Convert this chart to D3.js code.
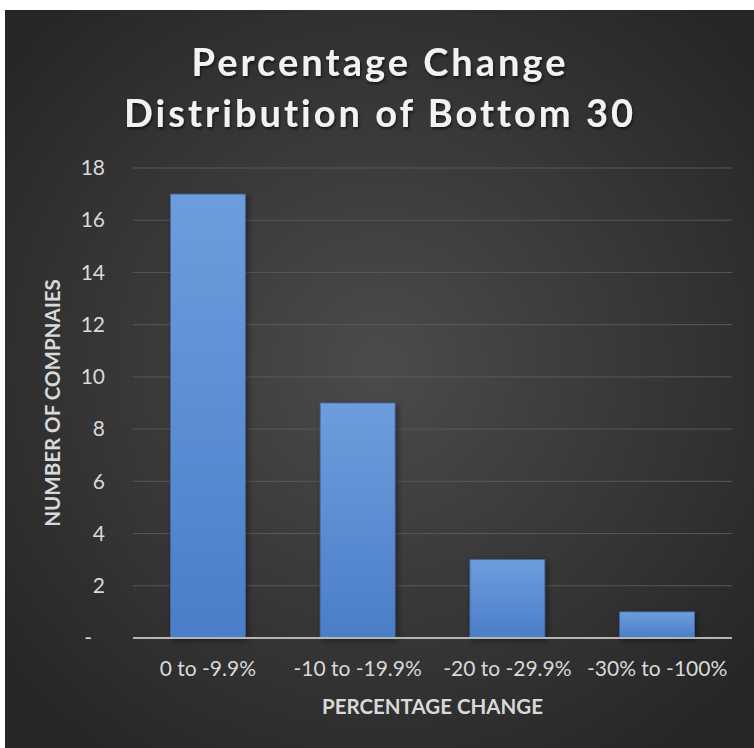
<!DOCTYPE html>
<html>
<head>
<meta charset="utf-8">
<script src="https://cdn.jsdelivr.net/npm/d3@7"></script>
<style>
  body { margin: 0; background: #fff; }
  text { font-family: Lato, "Open Sans", sans-serif; }
</style>
</head>
<body>
<svg></svg>
<script>
var width = 754,
    height = 748;

// Chart data
var categories = ['0 to -9.9%', '-10 to -19.9%', '-20 to -29.9%', '-30% to -100%'];
var counts = [17, 9, 3, 1];
var yTicks = [0, 2, 4, 6, 8, 10, 12, 14, 16, 18];
var titleLines = ['Percentage Change', 'Distribution of Bottom 30'];

var margin = {left: 133, right: 22, top: 168, bottom: 110};

var svg = d3.select('svg')
    .attr('width', width)
    .attr('height', height);

var defs = svg.append('defs');

// Background gradient
var bg = defs.append('radialGradient')
    .attr('id', 'bg')
    .attr('cx', '50%').attr('cy', '48%').attr('r', '65%');
bg.append('stop').attr('offset', '0%').attr('stop-color', '#4b4b4b');
bg.append('stop').attr('offset', '100%').attr('stop-color', '#262626');

// Bar gradient
var barGrad = defs.append('linearGradient')
    .attr('id', 'barGrad')
    .attr('x1', 0).attr('y1', 0).attr('x2', 0).attr('y2', 1);
barGrad.append('stop').attr('offset', '0%').attr('stop-color', '#6e9ddd');
barGrad.append('stop').attr('offset', '100%').attr('stop-color', '#4a7ec8');

var shadow = defs.append('filter')
    .attr('id', 'shadow')
    .attr('x', '-20%').attr('y', '-20%').attr('width', '140%').attr('height', '140%');
shadow.append('feDropShadow')
    .attr('dx', 2).attr('dy', 2).attr('stdDeviation', 3)
    .attr('flood-color', '#000').attr('flood-opacity', 0.45);

var textShadow = defs.append('filter').attr('id', 'textShadow');
textShadow.append('feDropShadow')
    .attr('dx', 1).attr('dy', 2).attr('stdDeviation', 1.5)
    .attr('flood-color', '#000').attr('flood-opacity', 0.6);

// Chart area
svg.append('rect')
    .attr('x', 5)
    .attr('y', 10)
    .attr('width', width - 5)
    .attr('height', height - 10)
    .attr('fill', 'url(#bg)');

var x = d3.scaleBand()
    .domain(categories)
    .range([margin.left, width - margin.right])
    .paddingInner(0.5)
    .paddingOuter(0.25);

var y = d3.scaleLinear()
    .domain([0, 18])
    .range([height - margin.bottom, margin.top]);

// Gridlines
svg.append('g')
    .selectAll('line')
    .data(yTicks.slice(1))
    .enter().append('line')
    .attr('x1', margin.left)
    .attr('x2', width - margin.right)
    .attr('y1', function(d) { return y(d); })
    .attr('y2', function(d) { return y(d); })
    .attr('stroke', '#585858')
    .attr('stroke-width', 1);

// Y axis labels
var yAxis = svg.append('g')
    .attr('transform', 'translate(' + (margin.left - 28) + ',0)')
    .call(d3.axisLeft(y)
        .tickValues(yTicks)
        .tickSize(0)
        .tickPadding(0)
        .tickFormat(function(d) { return d === 0 ? '-' : d; }));
yAxis.select('.domain').remove();
yAxis.selectAll('text')
    .attr('fill', '#d9d9d9')
    .style('font-size', '21px')
    .attr('dx', function(d) { return d === 0 ? -13 : 0; });

// Bars
svg.append('g')
    .selectAll('rect')
    .data(counts)
    .enter().append('rect')
    .attr('x', function(d, i) { return x(categories[i]); })
    .attr('y', function(d) { return y(d); })
    .attr('width', x.bandwidth())
    .attr('height', function(d) { return y(0) - y(d); })
    .attr('fill', 'url(#barGrad)')
    .attr('stroke', '#3f6aa8')
    .attr('stroke-width', 0.8)
    .attr('filter', 'url(#shadow)');

// Zero line
svg.append('line')
    .attr('x1', margin.left)
    .attr('x2', width - margin.right)
    .attr('y1', y(0))
    .attr('y2', y(0))
    .attr('stroke', '#b5b5b5')
    .attr('stroke-width', 2);

// X axis labels
var xAxis = svg.append('g')
    .attr('transform', 'translate(0,' + y(0) + ')')
    .call(d3.axisBottom(x).tickSize(0).tickPadding(23));
xAxis.select('.domain').remove();
xAxis.selectAll('text')
    .attr('fill', '#d9d9d9')
    .style('font-size', '21px');

// Title
svg.append('g')
    .selectAll('text')
    .data(titleLines)
    .enter().append('text')
    .attr('x', width / 2 + 3)
    .attr('y', function(d, i) { return 76 + i * 51; })
    .attr('text-anchor', 'middle')
    .attr('fill', '#f2f2f2')
    .attr('font-weight', 'bold')
    .style('font-size', '38px')
    .style('letter-spacing', '3px')
    .attr('filter', 'url(#textShadow)')
    .text(function(d) { return d; });

// Axis titles
svg.append('text')
    .attr('transform', 'translate(60,' + 403 + ')rotate(-90)')
    .attr('text-anchor', 'middle')
    .attr('fill', '#d9d9d9')
    .attr('font-weight', 'bold')
    .style('font-size', '20.5px')
    .text('NUMBER OF COMPNAIES');

svg.append('text')
    .attr('x', (margin.left + width - margin.right) / 2)
    .attr('y', 714)
    .attr('text-anchor', 'middle')
    .attr('fill', '#d9d9d9')
    .attr('font-weight', 'bold')
    .style('font-size', '20.5px')
    .text('PERCENTAGE CHANGE');
</script>
</body>
</html>
